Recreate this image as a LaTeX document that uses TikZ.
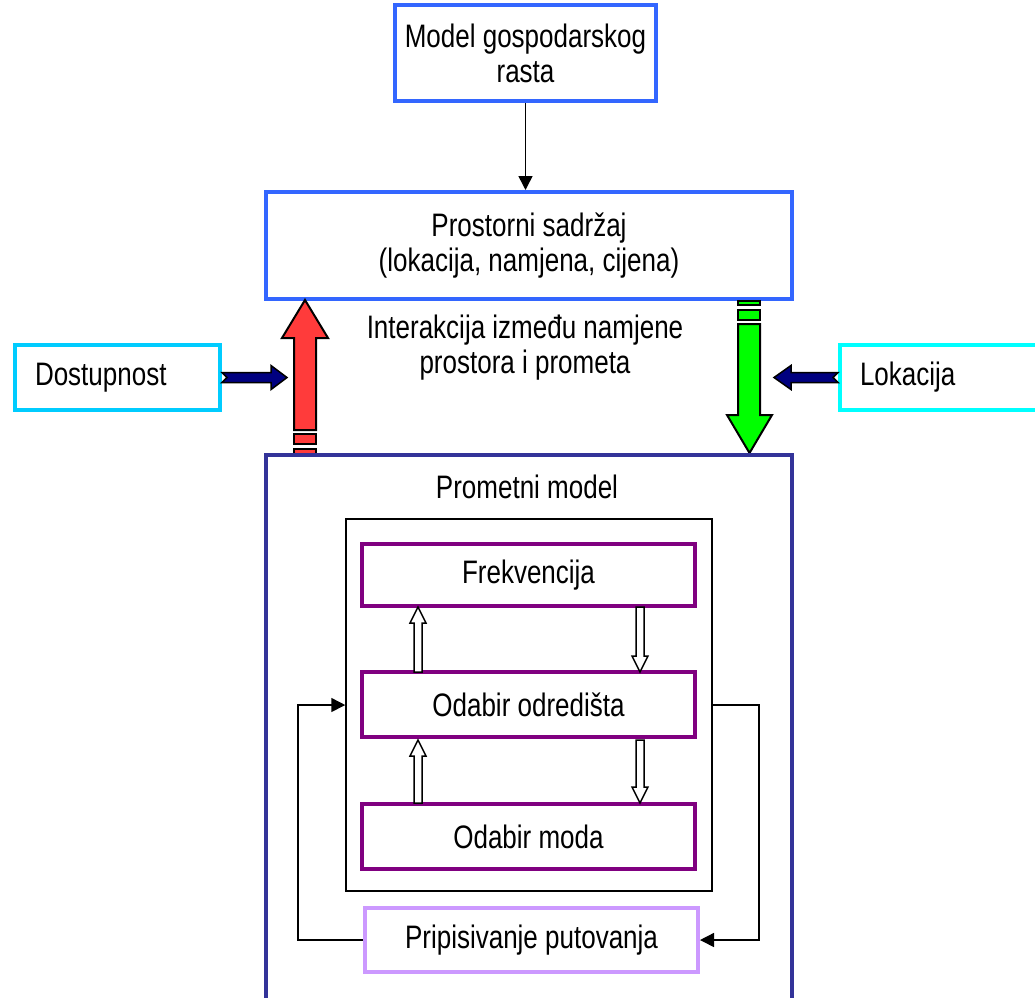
\documentclass[tikz,border=0pt]{standalone}
\usepackage{fontspec}
\setmainfont[FakeStretch=0.8]{Liberation Sans}
\usetikzlibrary{arrows.meta, positioning}

\definecolor{topblue}{HTML}{3366FF}
\definecolor{skyblue}{HTML}{00CCFF}
\definecolor{aqua}{HTML}{00FFFF}
\definecolor{modelnavy}{HTML}{333399}
\definecolor{plum}{HTML}{800080}
\definecolor{lilac}{HTML}{CC99FF}
\definecolor{arrowred}{HTML}{FF3B3B}
\definecolor{arrowgreen}{HTML}{00FF00}
\definecolor{arrownavy}{HTML}{000080}

% hollow block arrows: x, tail y, tip y
\newcommand{\hollowup}[3]{\draw[hollow] (#1-4,#2) -- (#1-4,#3+16) -- (#1-8,#3+16) -- (#1,#3) -- (#1+8,#3+16) -- (#1+4,#3+16) -- (#1+4,#2) -- cycle;}
\newcommand{\hollowdown}[3]{\draw[hollow] (#1-4,#2) -- (#1-4,#3-16) -- (#1-8,#3-16) -- (#1,#3) -- (#1+8,#3-16) -- (#1+4,#3-16) -- (#1+4,#2) -- cycle;}

\begin{document}
\begin{tikzpicture}[x=1pt, y=-1pt,
    every node/.style={font=\fontsize{32.5}{35}\selectfont},
    box/.style={draw, rectangle, line width=4pt, align=center, inner sep=0pt},
    sidebox/.style={box, anchor=west, text width=165pt, align=left, inner xsep=20pt, minimum height=65pt},
    stepbox/.style={box, draw=plum, minimum width=333pt, minimum height=62pt},
    arrow/.style={-{Triangle[length=14pt, width=14pt]}, line width=1.5pt},
    blockarrow/.style={draw=black, line width=2pt, line join=miter},
    hollow/.style={draw=black, fill=white, line width=1.5pt},
    smallarrow/.style={draw=black, fill=arrownavy, line width=1.5pt}
]
\useasboundingbox (0,0) rectangle (1035,997);

\node[box, draw=topblue, minimum width=526pt, minimum height=107pt] (space) at (529,245.5) {Prostorni sadržaj\\(lokacija, namjena, cijena)};
\node[box, draw=topblue, minimum width=261pt, minimum height=96pt] (model) at (525.5,53) {Model gospodarskog\\rasta};
\draw[arrow] (model.south) -- (model.south |- space.north);

\node[sidebox, draw=skyblue] (dost) at (13,377.5) {Dostupnost};
\node[sidebox, draw=aqua] (lok) at (838,377.5) {Lokacija};
\node[align=center] (interlbl) at (525,348) {Interakcija između namjene\\prostora i prometa};

% block arrows between the two models
\draw[smallarrow] (dost.east) ++(0,-5) -- ++(49,0) -- ++(0,-7) -- ++(16,12) -- ++(-16,12) -- ++(0,-7) -- ++(-49,0) -- ++(5,-5) -- cycle;
\draw[smallarrow] (lok.west) ++(0,-5) -- ++(-47,0) -- ++(0,-7) -- ++(-17,12) -- ++(17,12) -- ++(0,-7) -- ++(47,0) -- ++(-5,-5) -- cycle;

\draw[blockarrow, fill=arrowred] (294,430) -- (294,338) -- (282,338) -- (305,300) -- (328,338) -- (316,338) -- (316,430) -- cycle;
\draw[blockarrow, fill=arrowred] (294,434) rectangle (316,444);
\draw[blockarrow, fill=arrowred] (294,449) rectangle (316,454);

\draw[blockarrow, fill=arrowgreen] (738,324) -- (738,415) -- (727,415) -- (749.5,453) -- (772,415) -- (760,415) -- (760,324) -- cycle;
\draw[blockarrow, fill=arrowgreen] (738,301) rectangle (760,305);
\draw[blockarrow, fill=arrowgreen] (738,310) rectangle (760,320);

% traffic model
\node[box, draw=modelnavy, anchor=north, minimum width=526pt, minimum height=560pt] (traffic) at (529,453) {};
\node (traffictitle) at (527,487) {Prometni model};
\node[draw, line width=1.5pt, minimum width=366pt, minimum height=372pt] (inner) at (529,705) {};

\node[stepbox] (freq) at (528.5,575) {Frekvencija};
\node[stepbox, below=62pt of freq, minimum height=65pt] (dest) {Odabir odredišta};
\node[stepbox, below=63pt of dest, minimum height=65pt] (mode) {Odabir moda};
\node[box, draw=lilac, minimum width=333pt, minimum height=64pt] (assign) at (531.5,940) {Pripisivanje putovanja};

\hollowup{418}{672}{607}
\hollowdown{640}{607}{672}
\hollowup{418}{803}{740}
\hollowdown{640}{740}{803}

% feedback loop
\draw[arrow] (assign.west) -- ++(-65,0) |- (inner.west);
\draw[arrow] (inner.east) -- ++(46,0) |- (assign.east);

\end{tikzpicture}
\end{document}
